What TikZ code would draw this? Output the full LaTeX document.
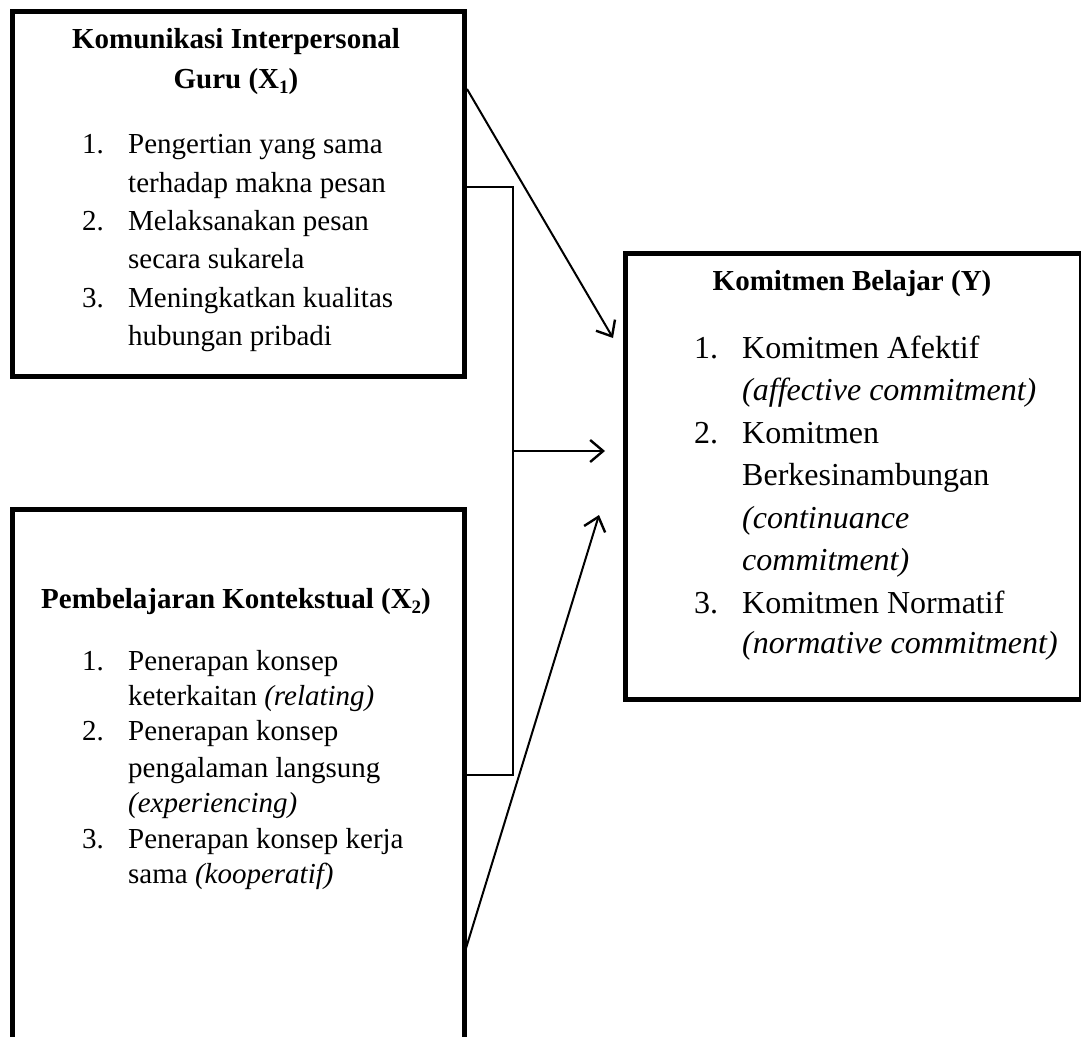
\documentclass[tikz,border=0pt]{standalone}
\usepackage{fontspec}
\setmainfont{Liberation Serif}
\usetikzlibrary{arrows.meta}
\newcommand{\mysub}[1]{\raisebox{-5pt}{\fontsize{19}{19}\selectfont #1}}
\begin{document}
\begin{tikzpicture}[x=1pt,y=1pt,
  box/.style={draw, line width=4.5pt, rectangle, inner sep=0pt, anchor=north west},
  conn/.style={line width=2pt},
  arr/.style={line width=2pt, -{Straight Barb[length=13pt,width=22pt,line width=2.4pt]}},
  ttl/.style={anchor=base, inner sep=0pt, font=\fontsize{29}{35}\selectfont\bfseries},
  itm/.style={anchor=base west, inner sep=0pt, font=\fontsize{29}{35}\selectfont},
  itmy/.style={anchor=base west, inner sep=0pt, font=\fontsize{32}{38}\selectfont}]
\useasboundingbox (0,0) rectangle (1081,-1036);
\clip (0,0) rectangle (1081,-1036);
% boxes
\node[box, minimum width=452pt, minimum height=365pt] (x1) at (10,-9) {};
\node[box, minimum width=452pt, minimum height=560pt] (x2) at (10,-507) {};
\node[box, minimum width=456pt, minimum height=446pt] (y) at (623,-251) {};
% box X1 text
\node[ttl] (t1a) at (236,-48) {Komunikasi Interpersonal};
\node[ttl] (t1b) at (236,-88) {Guru (X\mysub{1})};
\node[itm] (n11) at (82,-153) {1.};
\node[itm] (i11) at (128,-153) {Pengertian yang sama};
\node[itm] (i12) at (128,-192) {terhadap makna pesan};
\node[itm] (n12) at (82,-230) {2.};
\node[itm] (i13) at (128,-230) {Melaksanakan pesan};
\node[itm] (i14) at (128,-268) {secara sukarela};
\node[itm] (n13) at (82,-307) {3.};
\node[itm] (i15) at (128,-307) {Meningkatkan kualitas};
\node[itm] (i16) at (128,-345) {hubungan pribadi};
% box X2 text
\node[ttl] (t2) at (236,-608) {Pembelajaran Kontekstual (X\mysub{2})};
\node[itm] (n21) at (82,-670) {1.};
\node[itm] (i21) at (128,-670) {Penerapan konsep};
\node[itm] (i22) at (128,-705) {keterkaitan \textit{(relating)}};
\node[itm] (n22) at (82,-740) {2.};
\node[itm] (i23) at (128,-740) {Penerapan konsep};
\node[itm] (i24) at (128,-777) {pengalaman langsung};
\node[itm] (i25) at (128,-812) {\textit{(experiencing)}};
\node[itm] (n23) at (82,-848) {3.};
\node[itm] (i26) at (128,-848) {Penerapan konsep kerja};
\node[itm] (i27) at (128,-883) {sama \textit{(kooperatif)}};
% box Y text
\node[ttl] (ty) at (852,-290) {Komitmen Belajar (Y)};
\node[itmy] (ny1) at (694,-358) {1.};
\node[itmy] (iy1) at (742,-358) {Komitmen Afektif};
\node[itmy] (iy2) at (742,-400) {\textit{(affective commitment)}};
\node[itmy] (ny2) at (694,-443) {2.};
\node[itmy] (iy3) at (742,-443) {Komitmen};
\node[itmy] (iy4) at (742,-485) {Berkesinambungan};
\node[itmy] (iy5) at (742,-528) {\textit{(continuance}};
\node[itmy] (iy6) at (742,-570) {\textit{commitment)}};
\node[itmy] (ny3) at (694,-613) {3.};
\node[itmy] (iy7) at (742,-613) {Komitmen Normatif};
\node[itmy] (iy8) at (742,-653) {\textit{(normative commitment)}};
% connector coordinates
\coordinate (a1s) at (467,-89);
\coordinate (a1e) at (613,-338);
\coordinate (bt) at (467,-187);
\coordinate (bv) at (513,-775);
\coordinate (bb) at (467,-775);
\coordinate (bm) at (513,-451);
\coordinate (bme) at (605,-451);
\coordinate (a3s) at (463,-958);
\coordinate (a3e) at (599,-515);
% connectors
\draw[arr] (a1s) -- (a1e);
\draw[conn] (bt) -| (bv) -- (bb);
\draw[arr] (bm) -- (bme);
\draw[arr] (a3s) -- (a3e);
\end{tikzpicture}
\end{document}
